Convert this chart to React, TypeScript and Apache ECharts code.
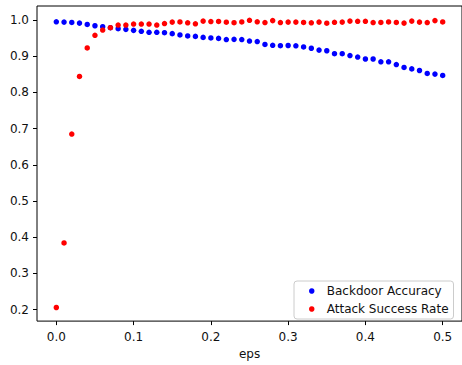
import React, { useEffect, useRef } from "react";
import * as echarts from "echarts";

const eps = [
  0.0, 0.01, 0.02, 0.03, 0.04, 0.05, 0.06, 0.07, 0.08, 0.09,
  0.1, 0.11, 0.12, 0.13, 0.14, 0.15, 0.16, 0.17, 0.18, 0.19,
  0.2, 0.21, 0.22, 0.23, 0.24, 0.25, 0.26, 0.27, 0.28, 0.29,
  0.3, 0.31, 0.32, 0.33, 0.34, 0.35, 0.36, 0.37, 0.38, 0.39,
  0.4, 0.41, 0.42, 0.43, 0.44, 0.45, 0.46, 0.47, 0.48, 0.49, 0.5,
];

const backdoorAccuracy = [
  0.9954, 0.9945, 0.9935, 0.9917, 0.9881, 0.9844, 0.9817, 0.979, 0.9762, 0.9744,
  0.9717, 0.969, 0.9662, 0.9662, 0.9653, 0.9626, 0.959, 0.9562, 0.955, 0.9522,
  0.9508, 0.9495, 0.9462, 0.9468, 0.9462, 0.9422, 0.9408, 0.9326, 0.9304, 0.9293,
  0.9298, 0.929, 0.9257, 0.9222, 0.9171, 0.9153, 0.9071, 0.9071, 0.902, 0.898,
  0.8925, 0.8925, 0.8848, 0.8848, 0.8771, 0.8692, 0.8652, 0.8607, 0.8525, 0.8507, 0.847,
];

const attackSuccessRate = [
  0.2056, 0.384, 0.685, 0.8443, 0.923, 0.958, 0.9726, 0.979, 0.9863, 0.9863,
  0.989, 0.989, 0.989, 0.9863, 0.9904, 0.9945, 0.9948, 0.9926, 0.9899, 0.9972,
  0.9959, 0.9962, 0.9943, 0.9929, 0.9948, 0.9995, 0.9954, 0.9932, 0.9986, 0.9932,
  0.9945, 0.9945, 0.9935, 0.9926, 0.9945, 0.9915, 0.994, 0.9945, 0.9972, 0.9967,
  0.9967, 0.9932, 0.9935, 0.9948, 0.9935, 0.9917, 0.9972, 0.9945, 0.9932, 0.9986, 0.9948,
];

const xTicks = [0, 0.1, 0.2, 0.3, 0.4, 0.5];
const yTicks = [0.2, 0.3, 0.4, 0.5, 0.6, 0.7, 0.8, 0.9, 1.0];

const seriesNames = ["Backdoor Accuracy", "Attack Success Rate"];
const seriesColors = ["#0000ff", "#ff0000"];

const FONT = "DejaVu Sans";

export default function App() {
  const ref = useRef<HTMLDivElement>(null);

  useEffect(() => {
    if (!ref.current) return;
    const chart = echarts.init(ref.current, null, { renderer: "svg" });
    const textColor = "#111";
    chart.setOption({
      animation: false,
      backgroundColor: "#ffffff",
      grid: {
        left: 37,
        top: 6,
        width: 429,
        height: 319,
        show: true,
        borderColor: "#000",
        borderWidth: 1,
        backgroundColor: "transparent",
      },
      xAxis: {
        type: "value",
        position: "bottom",
        min: -0.025,
        max: 0.525,
        name: "eps",
        nameLocation: "middle",
        nameGap: 25,
        nameTextStyle: { color: textColor, fontSize: 12, fontFamily: FONT },
        axisLine: { show: false, onZero: false },
        splitLine: { show: false },
        axisTick: {
          show: true,
          inside: false,
          length: 4,
          customValues: xTicks,
          lineStyle: { color: "#000", width: 1 },
        },
        axisLabel: {
          customValues: xTicks,
          margin: 10,
          color: textColor,
          fontSize: 12,
          fontFamily: FONT,
          formatter: (v: number) => v.toFixed(1),
        },
      },
      yAxis: {
        type: "value",
        position: "left",
        min: 0.168,
        max: 1.039,
        axisLine: { show: false, onZero: false },
        splitLine: { show: false },
        axisTick: {
          show: true,
          inside: false,
          length: 4,
          customValues: yTicks,
          lineStyle: { color: "#000", width: 1 },
        },
        axisLabel: {
          customValues: yTicks,
          margin: 8,
          color: textColor,
          fontSize: 12,
          fontFamily: FONT,
          formatter: (v: number) => v.toFixed(1),
        },
      },
      legend: {
        data: seriesNames,
        orient: "vertical",
        left: 294,
        top: 281,
        icon: "circle",
        itemWidth: 20,
        itemHeight: 5.5,
        itemGap: 6,
        padding: [4, 5, 4, 15],
        borderColor: "#cccccc",
        borderWidth: 1,
        borderRadius: 3,
        backgroundColor: "rgba(255,255,255,0.8)",
        textStyle: {
          color: textColor,
          fontSize: 12,
          fontFamily: FONT,
          lineHeight: 12,
        },
      },
      series: [
        {
          name: seriesNames[0],
          type: "scatter",
          symbol: "circle",
          symbolSize: 5.5,
          itemStyle: { color: seriesColors[0], opacity: 1 },
          data: eps.map((x, i) => [x, backdoorAccuracy[i]]),
          z: 2,
        },
        {
          name: seriesNames[1],
          type: "scatter",
          symbol: "circle",
          symbolSize: 5.5,
          itemStyle: { color: seriesColors[1], opacity: 1 },
          data: eps.map((x, i) => [x, attackSuccessRate[i]]),
          z: 3,
        },
      ],
    });
    return () => chart.dispose();
  }, []);

  return (
    <div
      ref={ref}
      style={{ position: "fixed", left: 0, top: 0, width: 462, height: 365, overflow: "hidden" }}
    />
  );
}
